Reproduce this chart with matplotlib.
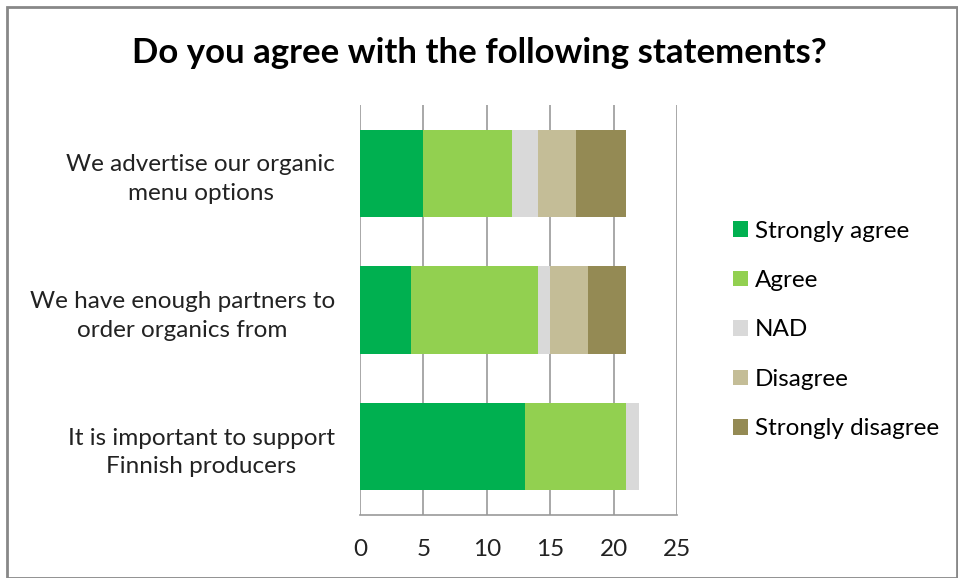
import matplotlib.pyplot as plt
from matplotlib.patches import Rectangle

plt.rcParams['font.family'] = ['Lato', 'DejaVu Sans']

statements = ['It is important to support\nFinnish producers',
              'We have enough partners to\norder organics from',
              'We advertise our organic\nmenu options']
answers = ['Strongly agree', 'Agree', 'NAD', 'Disagree', 'Strongly disagree']
strongly_agree = [13, 4, 5]
agree = [8, 10, 7]
nad = [1, 1, 2]
disagree = [0, 3, 3]
strongly_disagree = [0, 3, 4]
colors = ['#00B050', '#92D050', '#D9D9D9', '#C4BD97', '#948A54']

series = [strongly_agree, agree, nad, disagree, strongly_disagree]

fig = plt.figure(figsize=(9.58, 5.78), dpi=100)
ax = fig.add_axes([360/958, 1 - 515/578, 317/958, 410/578])

left = [0, 0, 0]
for vals, name, c in zip(series, answers, colors):
    ax.barh(range(3), vals, left=left, height=0.64, color=c, label=name, zorder=3)
    left = [l + v for l, v in zip(left, vals)]

ax.set_xlim(0, 25)
ax.set_ylim(-0.5, 2.5)
ax.set_xticks([0, 5, 10, 15, 20, 25])
ax.set_yticks(range(3))
ax.set_yticklabels(statements, fontsize=17.5, multialignment='center',
                   color='#222222', linespacing=1.45)
ax.tick_params(axis='x', labelsize=17.5, length=0, pad=17, colors='#222222')
ax.tick_params(axis='y', length=0, pad=18)
ax.grid(axis='x', color='#999999', linewidth=1.2, zorder=0)
for s in ['top', 'right', 'left']:
    ax.spines[s].set_visible(False)
ax.spines['bottom'].set_color('#999999')
ax.spines['bottom'].set_linewidth(1.2)

fig.text(0.5, 1 - 53/578, 'Do you agree with the following statements?',
         ha='center', va='center', fontsize=25, fontweight='bold')

handles, labels = ax.get_legend_handles_labels()
fig.legend(handles, labels, loc='center left', bbox_to_anchor=(733/958, 1 - 330/578),
           frameon=False, fontsize=17.5, handlelength=0.6, handleheight=0.6,
           handletextpad=0.3, labelspacing=1.17, borderpad=0, borderaxespad=0)

fig.patches.append(Rectangle((7/958, 0), 950/958, 1 - 7/578, transform=fig.transFigure,
                             fill=False, edgecolor='#888888', linewidth=2))

fig.savefig('out.png', dpi=100)
